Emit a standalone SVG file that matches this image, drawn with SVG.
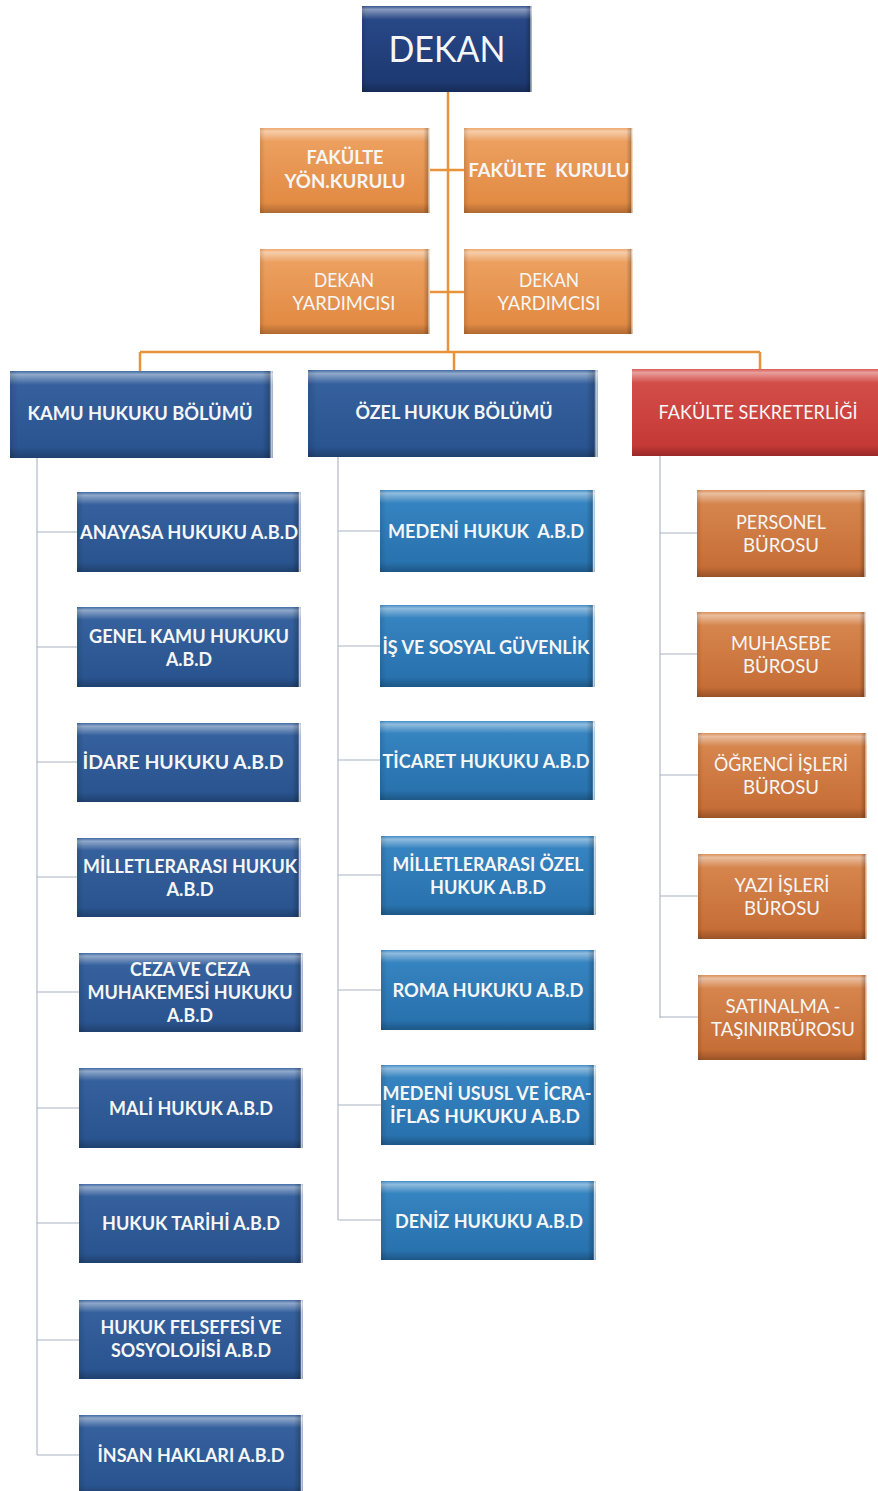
<svg xmlns="http://www.w3.org/2000/svg" width="878" height="1491" viewBox="0 0 878 1491">
<defs>
<linearGradient id="gNavy" x1="0" y1="0" x2="0" y2="1"><stop offset="0" stop-color="#2a4a8a"/><stop offset="1" stop-color="#1c376f"/></linearGradient>
<linearGradient id="gKamu" x1="0" y1="0" x2="0" y2="1"><stop offset="0" stop-color="#3763a0"/><stop offset="1" stop-color="#28528d"/></linearGradient>
<linearGradient id="gOzel" x1="0" y1="0" x2="0" y2="1"><stop offset="0" stop-color="#3887c4"/><stop offset="1" stop-color="#266fab"/></linearGradient>
<linearGradient id="gOrange" x1="0" y1="0" x2="0" y2="1"><stop offset="0" stop-color="#eea465"/><stop offset="1" stop-color="#e0873f"/></linearGradient>
<linearGradient id="gSek" x1="0" y1="0" x2="0" y2="1"><stop offset="0" stop-color="#d98a52"/><stop offset="1" stop-color="#c46a33"/></linearGradient>
<linearGradient id="gRed" x1="0" y1="0" x2="0" y2="1"><stop offset="0" stop-color="#d6524c"/><stop offset="1" stop-color="#c23533"/></linearGradient>
<linearGradient id="bevV" x1="0" y1="0" x2="0" y2="1">
<stop offset="0" stop-color="#ffffff" stop-opacity="0.05"/>
<stop offset="0.04" stop-color="#ffffff" stop-opacity="0.45"/>
<stop offset="0.11" stop-color="#ffffff" stop-opacity="0.18"/>
<stop offset="0.16" stop-color="#ffffff" stop-opacity="0"/>
<stop offset="0.88" stop-color="#000000" stop-opacity="0"/>
<stop offset="1" stop-color="#000000" stop-opacity="0.22"/>
</linearGradient>
<linearGradient id="bevH" x1="0" y1="0" x2="1" y2="0">
<stop offset="0" stop-color="#000000" stop-opacity="0.12"/>
<stop offset="0.03" stop-color="#000000" stop-opacity="0"/>
<stop offset="0.96" stop-color="#000000" stop-opacity="0"/>
<stop offset="0.985" stop-color="#000000" stop-opacity="0.2"/>
<stop offset="0.993" stop-color="#ffffff" stop-opacity="0.7"/>
<stop offset="1" stop-color="#ffffff" stop-opacity="0.5"/>
</linearGradient>
</defs>
<style>
text{font-family:Lato,"Open Sans","Liberation Sans",sans-serif;fill:#f6f6f6;font-size:19px;font-weight:bold;text-anchor:middle;white-space:pre}
.n{font-weight:normal}
.big{font-size:36px;font-weight:normal}
.navy{fill:url(#gNavy)}
.kamu{fill:url(#gKamu)}
.ozel{fill:url(#gOzel)}
.org{fill:url(#gOrange)}
.sek{fill:url(#gSek)}
.red{fill:url(#gRed)}
.bv{fill:url(#bevV)}
.bh{fill:url(#bevH)}
.oline{stroke:#e8923a;stroke-width:2.5;fill:none}
.gline{stroke:#a9b2c4;stroke-width:1.1;fill:none}
</style>
<rect width="878" height="1491" fill="#ffffff"/>

<g id="connectors">
<path class="oline" d="M448 92 V352 M140 352 H760 M140 352 V371 M454 352 V370 M760 352 V369 M430 170 H464 M430 292 H464"/>
<path class="gline" d="M37 458 V1455 M37 532 H77 M37 647 H77 M37 762 H77 M37 877 H77 M37 992 H79 M37 1108 H79 M37 1223 H79 M37 1340 H79 M37 1455 H79"/>
<path class="gline" d="M338 457 V1220 M338 531 H380 M338 646 H380 M338 760 H380 M338 875 H381 M338 990 H381 M338 1105 H381 M338 1220 H381"/>
<path class="gline" d="M660 456 V1018 M660 533 H697 M660 654 H697 M660 775 H698 M660 896 H698 M660 1017 H698"/>
</g>

<g id="dekan"><rect class="navy" x="362" y="6" width="170" height="86"/><rect class="bv" x="362" y="6" width="170" height="86"/><rect class="bh" x="362" y="6" width="170" height="86"/><text class="big" x="447" y="62" textLength="117" lengthAdjust="spacingAndGlyphs">DEKAN</text></g>

<g id="fak-yon"><rect class="org" x="260" y="128" width="170" height="85"/><rect class="bv" x="260" y="128" width="170" height="85"/><rect class="bh" x="260" y="128" width="170" height="85"/><text x="345" y="164" textLength="77" lengthAdjust="spacingAndGlyphs">FAKÜLTE</text><text x="345" y="188" textLength="121" lengthAdjust="spacingAndGlyphs">YÖN.KURULU</text></g>
<g id="fak-kurul"><rect class="org" x="464" y="128" width="169" height="85"/><rect class="bv" x="464" y="128" width="169" height="85"/><rect class="bh" x="464" y="128" width="169" height="85"/><text x="549" y="177" textLength="161" lengthAdjust="spacingAndGlyphs">FAKÜLTE&#160; KURULU</text></g>
<g id="dy1"><rect class="org" x="260" y="249" width="170" height="85"/><rect class="bv" x="260" y="249" width="170" height="85"/><rect class="bh" x="260" y="249" width="170" height="85"/><text class="n" x="344" y="287" textLength="60" lengthAdjust="spacingAndGlyphs">DEKAN</text><text class="n" x="344" y="310" textLength="103" lengthAdjust="spacingAndGlyphs">YARDIMCISI</text></g>
<g id="dy2"><rect class="org" x="464" y="249" width="169" height="85"/><rect class="bv" x="464" y="249" width="169" height="85"/><rect class="bh" x="464" y="249" width="169" height="85"/><text class="n" x="549" y="287" textLength="60" lengthAdjust="spacingAndGlyphs">DEKAN</text><text class="n" x="549" y="310" textLength="103" lengthAdjust="spacingAndGlyphs">YARDIMCISI</text></g>

<g id="kamu"><rect class="kamu" x="10" y="371" width="263" height="87"/><rect class="bv" x="10" y="371" width="263" height="87"/><rect class="bh" x="10" y="371" width="263" height="87"/><text x="140" y="420" textLength="225" lengthAdjust="spacingAndGlyphs">KAMU HUKUKU BÖLÜMÜ</text></g>
<g id="ozel"><rect class="kamu" x="308" y="370" width="290" height="87"/><rect class="bv" x="308" y="370" width="290" height="87"/><rect class="bh" x="308" y="370" width="290" height="87"/><text x="454" y="419" textLength="197" lengthAdjust="spacingAndGlyphs">ÖZEL HUKUK BÖLÜMÜ</text></g>
<g id="sekreterlik"><rect class="red" x="632" y="369" width="246" height="87"/><rect class="bv" x="632" y="369" width="246" height="87"/><text class="n" x="758" y="419" textLength="199" lengthAdjust="spacingAndGlyphs">FAKÜLTE SEKRETERLİĞİ</text></g>

<g id="k1"><rect class="kamu" x="77" y="492" width="224" height="80"/><rect class="bv" x="77" y="492" width="224" height="80"/><rect class="bh" x="77" y="492" width="224" height="80"/><text x="189" y="539" textLength="218" lengthAdjust="spacingAndGlyphs">ANAYASA HUKUKU A.B.D</text></g>
<g id="k2"><rect class="kamu" x="77" y="607" width="224" height="80"/><rect class="bv" x="77" y="607" width="224" height="80"/><rect class="bh" x="77" y="607" width="224" height="80"/><text x="189" y="643" textLength="200" lengthAdjust="spacingAndGlyphs">GENEL KAMU HUKUKU</text><text x="189" y="666" textLength="46" lengthAdjust="spacingAndGlyphs">A.B.D</text></g>
<g id="k3"><rect class="kamu" x="77" y="723" width="224" height="79"/><rect class="bv" x="77" y="723" width="224" height="79"/><rect class="bh" x="77" y="723" width="224" height="79"/><text x="183" y="769" textLength="201" lengthAdjust="spacingAndGlyphs">İDARE HUKUKU A.B.D</text></g>
<g id="k4"><rect class="kamu" x="77" y="838" width="224" height="79"/><rect class="bv" x="77" y="838" width="224" height="79"/><rect class="bh" x="77" y="838" width="224" height="79"/><text x="190" y="873" textLength="214" lengthAdjust="spacingAndGlyphs">MİLLETLERARASI HUKUK</text><text x="190" y="896" textLength="47" lengthAdjust="spacingAndGlyphs">A.B.D</text></g>
<g id="k5"><rect class="kamu" x="79" y="953" width="224" height="79"/><rect class="bv" x="79" y="953" width="224" height="79"/><rect class="bh" x="79" y="953" width="224" height="79"/><text x="190" y="976" textLength="120" lengthAdjust="spacingAndGlyphs">CEZA VE CEZA</text><text x="190" y="999" textLength="205" lengthAdjust="spacingAndGlyphs">MUHAKEMESİ HUKUKU</text><text x="190" y="1022" textLength="46" lengthAdjust="spacingAndGlyphs">A.B.D</text></g>
<g id="k6"><rect class="kamu" x="79" y="1068" width="224" height="80"/><rect class="bv" x="79" y="1068" width="224" height="80"/><rect class="bh" x="79" y="1068" width="224" height="80"/><text x="191" y="1115" textLength="164" lengthAdjust="spacingAndGlyphs">MALİ HUKUK A.B.D</text></g>
<g id="k7"><rect class="kamu" x="79" y="1184" width="224" height="79"/><rect class="bv" x="79" y="1184" width="224" height="79"/><rect class="bh" x="79" y="1184" width="224" height="79"/><text x="191" y="1230" textLength="178" lengthAdjust="spacingAndGlyphs">HUKUK TARİHİ A.B.D</text></g>
<g id="k8"><rect class="kamu" x="79" y="1300" width="224" height="79"/><rect class="bv" x="79" y="1300" width="224" height="79"/><rect class="bh" x="79" y="1300" width="224" height="79"/><text x="191" y="1334" textLength="181" lengthAdjust="spacingAndGlyphs">HUKUK FELSEFESİ VE</text><text x="191" y="1357" textLength="160" lengthAdjust="spacingAndGlyphs">SOSYOLOJİSİ A.B.D</text></g>
<g id="k9"><rect class="kamu" x="79" y="1415" width="224" height="80"/><rect class="bv" x="79" y="1415" width="224" height="80"/><rect class="bh" x="79" y="1415" width="224" height="80"/><text x="191" y="1462" textLength="187" lengthAdjust="spacingAndGlyphs">İNSAN HAKLARI A.B.D</text></g>

<g id="o1"><rect class="ozel" x="380" y="490" width="215" height="82"/><rect class="bv" x="380" y="490" width="215" height="82"/><rect class="bh" x="380" y="490" width="215" height="82"/><text x="486" y="538" textLength="196" lengthAdjust="spacingAndGlyphs">MEDENİ HUKUK&#160; A.B.D</text></g>
<g id="o2"><rect class="ozel" x="380" y="605" width="215" height="82"/><rect class="bv" x="380" y="605" width="215" height="82"/><rect class="bh" x="380" y="605" width="215" height="82"/><text x="486" y="654" textLength="207" lengthAdjust="spacingAndGlyphs">İŞ VE SOSYAL GÜVENLİK</text></g>
<g id="o3"><rect class="ozel" x="380" y="721" width="215" height="79"/><rect class="bv" x="380" y="721" width="215" height="79"/><rect class="bh" x="380" y="721" width="215" height="79"/><text x="486" y="768" textLength="207" lengthAdjust="spacingAndGlyphs">TİCARET HUKUKU A.B.D</text></g>
<g id="o4"><rect class="ozel" x="381" y="836" width="215" height="79"/><rect class="bv" x="381" y="836" width="215" height="79"/><rect class="bh" x="381" y="836" width="215" height="79"/><text x="488" y="871" textLength="191" lengthAdjust="spacingAndGlyphs">MİLLETLERARASI ÖZEL</text><text x="488" y="894" textLength="116" lengthAdjust="spacingAndGlyphs">HUKUK A.B.D</text></g>
<g id="o5"><rect class="ozel" x="381" y="950" width="215" height="80"/><rect class="bv" x="381" y="950" width="215" height="80"/><rect class="bh" x="381" y="950" width="215" height="80"/><text x="488" y="997" textLength="191" lengthAdjust="spacingAndGlyphs">ROMA HUKUKU A.B.D</text></g>
<g id="o6"><rect class="ozel" x="381" y="1065" width="215" height="80"/><rect class="bv" x="381" y="1065" width="215" height="80"/><rect class="bh" x="381" y="1065" width="215" height="80"/><text x="487" y="1100" textLength="209" lengthAdjust="spacingAndGlyphs">MEDENİ USUSL VE İCRA-</text><text x="485" y="1123" textLength="190" lengthAdjust="spacingAndGlyphs">İFLAS HUKUKU A.B.D</text></g>
<g id="o7"><rect class="ozel" x="381" y="1181" width="215" height="79"/><rect class="bv" x="381" y="1181" width="215" height="79"/><rect class="bh" x="381" y="1181" width="215" height="79"/><text x="489" y="1228" textLength="188" lengthAdjust="spacingAndGlyphs">DENİZ HUKUKU A.B.D</text></g>

<g id="s1"><rect class="sek" x="697" y="490" width="169" height="87"/><rect class="bv" x="697" y="490" width="169" height="87"/><rect class="bh" x="697" y="490" width="169" height="87"/><text class="n" x="781" y="529" textLength="90" lengthAdjust="spacingAndGlyphs">PERSONEL</text><text class="n" x="781" y="552" textLength="76" lengthAdjust="spacingAndGlyphs">BÜROSU</text></g>
<g id="s2"><rect class="sek" x="697" y="612" width="169" height="85"/><rect class="bv" x="697" y="612" width="169" height="85"/><rect class="bh" x="697" y="612" width="169" height="85"/><text class="n" x="781" y="650" textLength="100" lengthAdjust="spacingAndGlyphs">MUHASEBE</text><text class="n" x="781" y="673" textLength="76" lengthAdjust="spacingAndGlyphs">BÜROSU</text></g>
<g id="s3"><rect class="sek" x="698" y="733" width="169" height="85"/><rect class="bv" x="698" y="733" width="169" height="85"/><rect class="bh" x="698" y="733" width="169" height="85"/><text class="n" x="781" y="771" textLength="134" lengthAdjust="spacingAndGlyphs">ÖĞRENCİ İŞLERİ</text><text class="n" x="781" y="794" textLength="76" lengthAdjust="spacingAndGlyphs">BÜROSU</text></g>
<g id="s4"><rect class="sek" x="698" y="854" width="169" height="85"/><rect class="bv" x="698" y="854" width="169" height="85"/><rect class="bh" x="698" y="854" width="169" height="85"/><text class="n" x="782" y="892" textLength="95" lengthAdjust="spacingAndGlyphs">YAZI İŞLERİ</text><text class="n" x="782" y="915" textLength="76" lengthAdjust="spacingAndGlyphs">BÜROSU</text></g>
<g id="s5"><rect class="sek" x="698" y="975" width="169" height="85"/><rect class="bv" x="698" y="975" width="169" height="85"/><rect class="bh" x="698" y="975" width="169" height="85"/><text class="n" x="783" y="1013" textLength="115" lengthAdjust="spacingAndGlyphs">SATINALMA -</text><text class="n" x="783" y="1036" textLength="144" lengthAdjust="spacingAndGlyphs">TAŞINIRBÜROSU</text></g>
</svg>
